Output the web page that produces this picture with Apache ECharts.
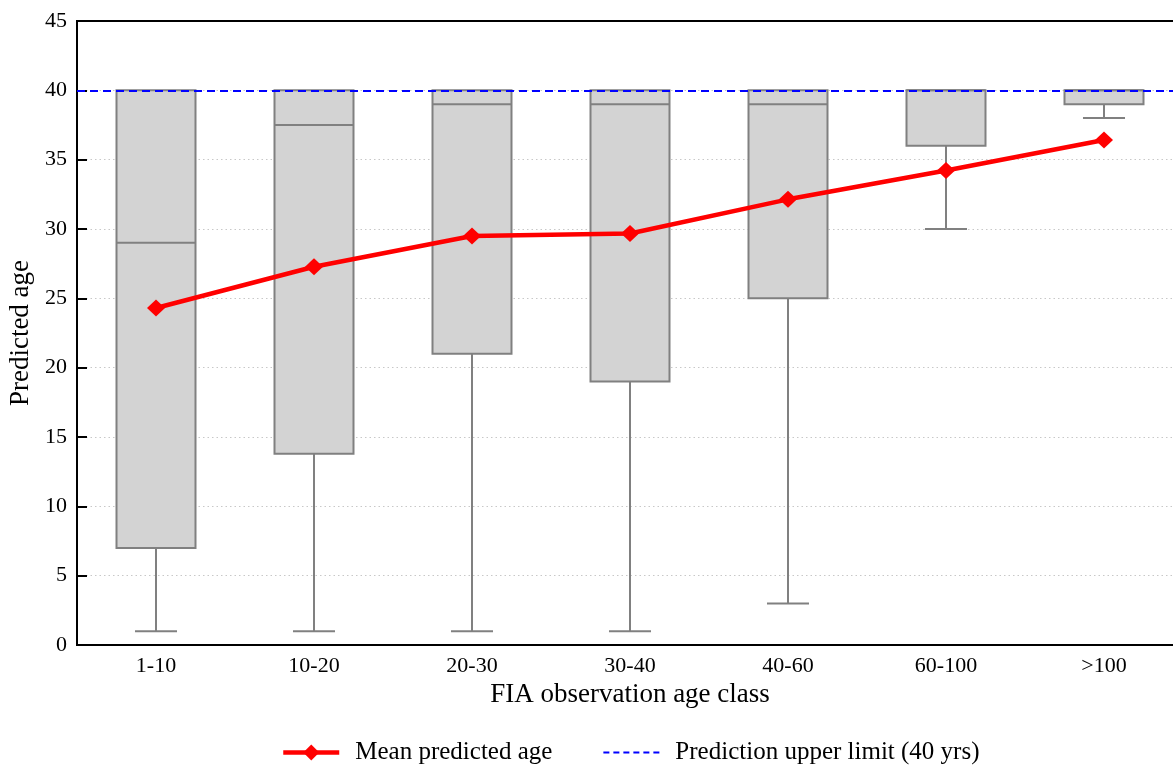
<!DOCTYPE html>
<html>
<head>
<meta charset="utf-8">
<script src="https://cdn.jsdelivr.net/npm/echarts@6/dist/echarts.min.js"></script>
<style>
html,body{margin:0;padding:0;background:#fff;overflow:hidden;}
#chart{width:1173px;height:765px;}
</style>
</head>
<body>
<div id="chart"></div>
<script>
const categories = ['1-10', '10-20', '20-30', '30-40', '40-60', '60-100', '>100'];
const whiskerLow = [1, 1, 1, 1, 3, 30, 38];
const quartile1 = [7, 13.8, 21, 19, 25, 36, 39];
const median = [29, 37.5, 39, 39, 39, 40, 40];
const quartile3 = [40, 40, 40, 40, 40, 40, 40];
const whiskerHigh = [40, 40, 40, 40, 40, 40, 40];
const meanAge = [24.3, 27.28, 29.5, 29.68, 32.14, 34.22, 36.42];
const upperLimit = 40;
const yTicks = [0, 5, 10, 15, 20, 25, 30, 35, 40, 45];

const boxData = categories.map((c, i) => [i, whiskerLow[i], quartile1[i], median[i], quartile3[i], whiskerHigh[i]]);

const FONT = 'Liberation Serif';
const chart = echarts.init(document.getElementById('chart'), null, {renderer: 'canvas'});

function renderBox(params, api) {
  const idx = api.value(0);
  const band = api.size([1, 0])[0];
  const half = band * 0.25;
  const capHalf = band * 0.133;
  const x = api.coord([idx, 0])[0];
  const yMin = api.coord([idx, api.value(1)])[1];
  const yQ1 = api.coord([idx, api.value(2)])[1];
  const yMed = api.coord([idx, api.value(3)])[1];
  const yQ3 = api.coord([idx, api.value(4)])[1];
  const yMax = api.coord([idx, api.value(5)])[1];
  const stroke = {stroke: '#808080', lineWidth: 2, fill: null};
  const children = [];
  if (yMin > yQ1) {
    children.push({type: 'line', shape: {x1: x, y1: yQ1, x2: x, y2: yMin}, style: stroke});
    children.push({type: 'line', shape: {x1: x - capHalf, y1: yMin, x2: x + capHalf, y2: yMin}, style: stroke});
  }
  if (yMax < yQ3) {
    children.push({type: 'line', shape: {x1: x, y1: yQ3, x2: x, y2: yMax}, style: stroke});
    children.push({type: 'line', shape: {x1: x - capHalf, y1: yMax, x2: x + capHalf, y2: yMax}, style: stroke});
  }
  children.push({type: 'rect', shape: {x: x - half, y: yQ3, width: half * 2, height: yQ1 - yQ3},
    style: {fill: '#d3d3d3', stroke: '#808080', lineWidth: 2}});
  children.push({type: 'line', shape: {x1: x - half, y1: yMed, x2: x + half, y2: yMed}, style: stroke});
  return {type: 'group', children: children};
}

const option = {
  animation: false,
  backgroundColor: '#fff',
  textStyle: {fontFamily: FONT, color: '#000'},
  grid: {left: 77, top: 21, width: 1106, height: 624, outerBoundsMode: 'none', show: true, borderColor: '#000', borderWidth: 2, containLabel: false},
  legend: {
    left: 276,
    top: 735,
    itemWidth: 56,
    itemHeight: 20,
    itemGap: 50,
    lineStyle: {width: 'inherit'},
    textStyle: {fontFamily: FONT, fontSize: 25, color: '#000', padding: [0, 0, 0, 11]},
    data: [
      {name: 'Mean predicted age'},
      {name: 'Prediction upper limit (40 yrs)', itemStyle: {color: 'rgba(0,0,0,0)', borderWidth: 0}}
    ]
  },
  xAxis: {
    type: 'category',
    data: categories,
    name: 'FIA observation age class',
    nameLocation: 'middle',
    nameGap: 35,
    nameTextStyle: {fontFamily: FONT, fontSize: 27, color: '#000'},
    axisLine: {lineStyle: {color: '#000', width: 2}},
    axisTick: {inside: true, alignWithLabel: true, length: 10, lineStyle: {color: '#000', width: 2}},
    axisLabel: {fontFamily: FONT, fontSize: 22, color: '#000', margin: 10},
    splitLine: {show: false}
  },
  yAxis: {
    type: 'value',
    min: yTicks[0],
    max: yTicks[yTicks.length - 1],
    interval: 5,
    name: 'Predicted age',
    nameLocation: 'middle',
    nameGap: 40,
    nameTextStyle: {fontFamily: FONT, fontSize: 27, color: '#000'},
    axisLine: {show: true, lineStyle: {color: '#000', width: 2}},
    axisTick: {show: true, inside: true, length: 10, lineStyle: {color: '#000', width: 2}},
    axisLabel: {fontFamily: FONT, fontSize: 22, color: '#000', margin: 10},
    splitLine: {show: true, showMaxLine: false, showMinLine: false, lineStyle: {color: '#c8c8c8', width: 1, type: [1.5, 3]}}
  },
  series: [
    {
      type: 'custom',
      name: 'box',
      renderItem: renderBox,
      encode: {x: 0, y: [1, 2, 3, 4, 5]},
      data: boxData,
      z: 2
    },
    {
      type: 'line',
      name: 'Mean predicted age',
      data: meanAge,
      symbol: 'diamond',
      symbolSize: [18, 17],
      color: '#ff0000',
      itemStyle: {color: '#ff0000'},
      lineStyle: {color: '#ff0000', width: 4.5},
      z: 5
    },
    {
      type: 'line',
      name: 'Prediction upper limit (40 yrs)',
      data: [],
      symbol: 'none',
      color: '#0000ff',
      itemStyle: {color: '#0000ff'},
      lineStyle: {color: '#0000ff', width: 2, type: [6, 4]},
      z: 6,
      markLine: {
        silent: true,
        symbol: ['none', 'none'],
        label: {show: false},
        lineStyle: {color: '#0000ff', width: 2, type: [8, 5]},
        data: [{yAxis: upperLimit}],
        z: 6
      }
    }
  ]
};
chart.setOption(option);
</script>
</body>
</html>
